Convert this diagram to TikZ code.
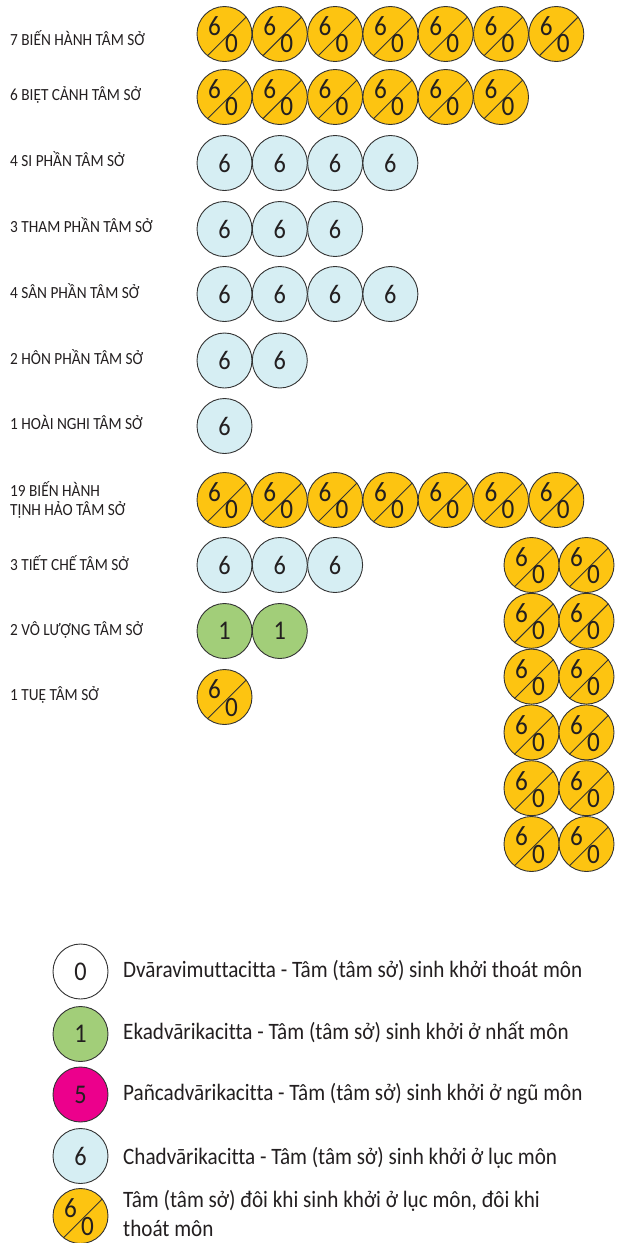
\documentclass[tikz,border=0pt]{standalone}
\usepackage{fontspec}
\setmainfont[FakeStretch=0.9,RawFeature={-liga;-calt;-clig}]{Carlito}
\definecolor{yel}{RGB}{253,196,17}
\definecolor{lblue}{RGB}{214,238,243}
\definecolor{lgreen}{RGB}{162,206,121}
\definecolor{magen}{RGB}{236,0,140}
\definecolor{dgray}{RGB}{51,51,51}
\definecolor{txt}{RGB}{35,31,32}
\tikzset{
  disc/.style={circle, draw=dgray, line width=0.9pt, minimum size=55pt, inner sep=0pt, text=txt,
    font=\fontsize{27}{27}\selectfont},
  szd/.style={disc, fill=yel},
  sixd/.style={disc, fill=lblue},
  oned/.style={disc, fill=lgreen},
  fived/.style={disc, fill=magen},
  zerod/.style={disc, fill=white},
  dline/.style={draw=dgray, line width=0.9pt},
  dig/.style={inner sep=0pt, text=txt, font=\fontsize{28}{28}\selectfont},
  lab/.style={anchor=base west, inner sep=0pt, text=txt, font=\fontsize{17}{19}\selectfont},
  leg/.style={anchor=base west, inner sep=0pt, text=txt, font=\fontsize{23.5}{28}\selectfont},
}
\newcommand\szdisc[3]{%
  \node[szd] (#1) at (#2,#3) {};
  \draw[dline] (#1.232) -- (#1.38);
  \node[dig] (#1-a) at ([shift={(-10,-7.5)}]#1.center) {6};
  \node[dig] (#1-b) at ([shift={(7,10)}]#1.center) {0};
}
\begin{document}
\begin{tikzpicture}[x=1pt,y=-1pt]
\useasboundingbox[fill=white] (0,0) rectangle (619,1243);
% labels
\node[lab] (l1) at (10,45) {7 BIẾN HÀNH TÂM SỞ};
\node[lab] (l2) at (10,100.7) {6 BIỆT CẢNH TÂM SỞ};
\node[lab] (l3) at (10,166) {4 SI PHẦN TÂM SỞ};
\node[lab] (l4) at (10,232) {3 THAM PHẦN TÂM SỞ};
\node[lab] (l5) at (10,298) {4 SÂN PHẦN TÂM SỞ};
\node[lab] (l6) at (10,364) {2 HÔN PHẦN TÂM SỞ};
\node[lab] (l7) at (10,429) {1 HOÀI NGHI TÂM SỞ};
\node[lab] (l8a) at (10,496.7) {19 BIẾN HÀNH};
\node[lab] (l8b) at (10,515.5) {TỊNH HẢO TÂM SỞ};
\node[lab] (l9) at (10,570) {3 TIẾT CHẾ TÂM SỞ};
\node[lab] (l10) at (10,635) {2 VÔ LƯỢNG TÂM SỞ};
\node[lab] (l11) at (10,700) {1 TUỆ TÂM SỞ};
% rows
\foreach \k in {0,...,6} { \szdisc{ra\k}{224.5+55.3*\k}{34} }
\foreach \k in {0,...,5} { \szdisc{rb\k}{224.5+55.3*\k}{97} }
\foreach \k in {0,...,3} { \node[sixd] (rc\k) at (224.5+55.3*\k,163) {6}; }
\foreach \k in {0,...,2} { \node[sixd] (rd\k) at (224.5+55.3*\k,229) {6}; }
\foreach \k in {0,...,3} { \node[sixd] (re\k) at (224.5+55.3*\k,294) {6}; }
\foreach \k in {0,...,1} { \node[sixd] (rf\k) at (224.5+55.3*\k,360.5) {6}; }
\node[sixd] (rg0) at (224.5,426) {6};
\foreach \k in {0,...,6} { \szdisc{rh\k}{224.5+55.3*\k}{500} }
\foreach \k in {0,...,2} { \node[sixd] (ri\k) at (224.5+55.3*\k,565) {6}; }
\foreach \k in {0,...,1} { \node[oned] (rj\k) at (224.5+55.3*\k,631) {1}; }
\szdisc{rk0}{224.5}{697}
% right column
\foreach \j in {0,...,5} {
  \szdisc{cl\j}{531.5}{565+55.8*\j}
  \szdisc{cr\j}{586.5}{565+55.8*\j}
}
% legend
\node[zerod] (g0) at (80.5,971.5) {0};
\node[oned] (g1) at (80.5,1034) {1};
\node[fived] (g5) at (80.5,1094.5) {5};
\node[sixd] (g6) at (80.5,1156) {6};
\szdisc{g60}{80.5}{1216}
\node[leg] (t0) at (123,977) {Dvāravimuttacitta - Tâm (tâm sở) sinh khởi thoát môn};
\node[leg] (t1) at (123,1039.5) {Ekadvārikacitta - Tâm (tâm sở) sinh khởi ở nhất môn};
\node[leg] (t5) at (123,1100) {Pañcadvārikacitta - Tâm (tâm sở) sinh khởi ở ngũ môn};
\node[leg] (t6) at (123,1164) {Chadvārikacitta - Tâm (tâm sở) sinh khởi ở lục môn};
\node[leg] (t60a) at (123,1207.5) {Tâm (tâm sở) đôi khi sinh khởi ở lục môn, đôi khi};
\node[leg] (t60b) at (123,1236) {thoát môn};
\end{tikzpicture}
\end{document}
